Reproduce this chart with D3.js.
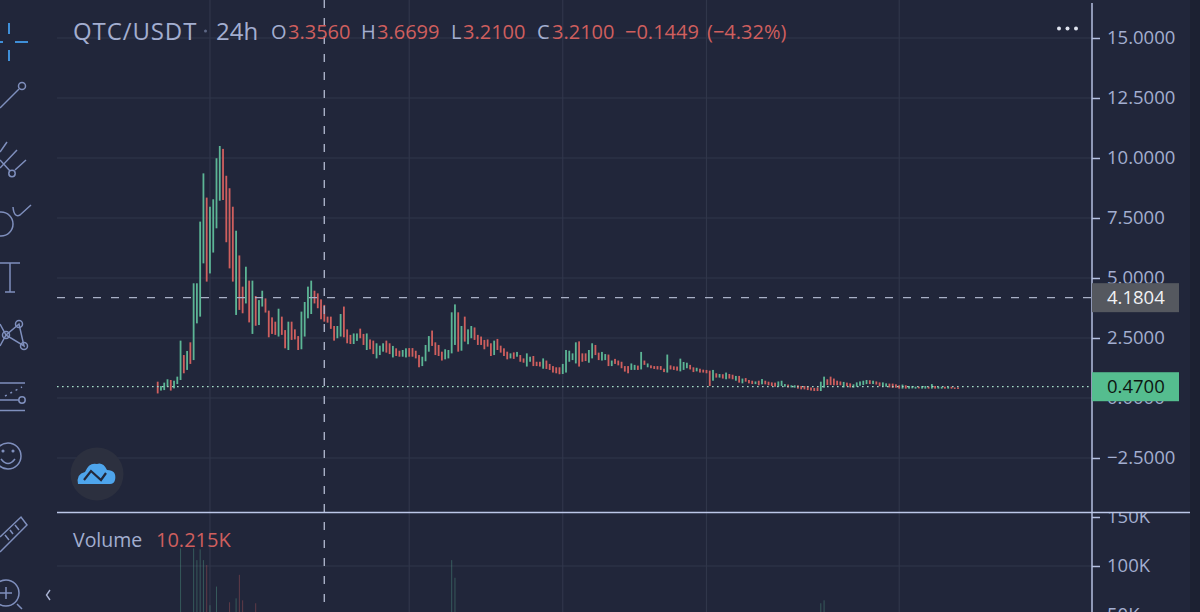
<!DOCTYPE html>
<html>
<head>
<meta charset="utf-8">
<script src="https://cdnjs.cloudflare.com/ajax/libs/d3/7.8.5/d3.min.js"></script>
<style>
    html, body { margin: 0; padding: 0; background: #21263a; overflow: hidden; }
    svg { display: block; }
    text { font-family: "Open Sans", "Noto Sans", sans-serif; }
</style>
</head>
<body>
<svg id="chart" width="1200" height="612"></svg>
<script>
// daily candles
var opens = [
    .68,.31,.33,.47,.75,.40,.58,.75,1.79,1.17,
    2.32,1.58,3.11,3.39,5.61,8.35,5.19,6.06,7.07,8.22,
    10.38,9.26,8.74,7.97,3.46,5.94,4.64,3.94,4.89,2.67,
    4.25,3.04,3.81,4.15,3.64,3.36,3.18,2.56,3.39,2.83,
    2.00,3.18,2.86,2.58,2.03,2.56,3.32,3.50,4.47,4.36,
    4.11,3.88,3.39,3.39,3.00,2.49,2.56,3.81,2.86,2.63,
    2.25,2.38,2.89,2.67,2.00,2.44,2.39,1.65,1.79,1.93,
    2.39,2.28,1.69,2.07,1.97,1.72,1.69,2.08,2.08,1.97,
    1.79,1.33,1.53,1.93,2.81,2.32,2.21,1.93,1.61,1.65,
    1.86,2.21,3.57,1.97,3.39,2.24,2.49,2.94,2.63,2.56,
    2.42,2.44,2.28,1.79,2.46,2.18,2.07,1.93,1.65,1.90,
    1.72,1.79,1.65,1.31,1.51,1.75,1.51,1.51,1.22,1.56,
    1.42,1.33,1.28,1.28,1.00,1.06,1.51,1.58,1.44,2.36,
    1.86,1.86,1.47,1.65,2.21,1.89,1.56,1.58,1.81,1.33,
    1.63,1.56,1.51,1.33,1.33,1.17,1.17,1.35,1.19,1.56,
    1.28,1.36,1.33,1.33,1.33,1.22,1.06,1.36,1.32,1.31,
    1.11,1.17,1.24,1.38,1.28,1.11,1.22,1.18,1.17,1.14,
    .72,1.03,.85,.99,.78,1.00,.97,.72,.92,.61,
    .83,.75,.72,.58,.72,.57,.72,.68,.65,.64,
    .47,.50,.47,.56,.44,.43,.53,.50,.50,.50,
    .44,.42,.44,.29,.43,.78,.89,.81,.72,.69,
    .44,.64,.61,.43,.47,.51,.54,.58,.74,.58,
    .69,.65,.49,.47,.60,.60,.57,.53,.39,.53,
    .39,.40,.39,.47,.39,.39,.47,.39,.50,.39,
    .39,.47,.39,.47,.44,.44
];
var closes = [
    .19,.50,.64,.78,.31,.72,.89,2.39,1.03,1.96,
    1.42,4.78,4.78,7.35,9.36,4.85,7.97,8.28,9.99,10.50,
    8.25,6.49,5.40,4.85,6.97,3.67,3.53,5.47,3.15,4.89,
    3.01,4.08,4.47,3.56,2.53,2.67,2.63,3.72,2.63,2.07,
    3.18,2.42,2.44,2.00,3.60,4.00,4.64,4.89,3.94,3.74,
    3.28,3.18,3.14,2.88,2.39,3.00,3.50,2.53,2.28,2.25,
    2.69,2.69,2.49,2.21,2.69,2.03,1.83,2.28,2.18,2.28,
    1.89,1.83,2.17,1.75,1.72,2.00,2.07,1.72,1.72,1.65,
    1.28,1.72,2.21,2.58,2.17,1.79,1.75,1.56,2.03,2.00,
    3.57,3.90,1.93,3.00,2.35,2.86,3.00,2.42,2.21,2.21,
    2.03,2.14,1.75,2.39,2.00,1.89,1.75,1.61,1.86,1.63,
    1.92,1.51,1.47,1.86,1.72,1.33,1.33,1.31,1.65,1.21,
    1.17,1.06,1.03,.99,1.42,2.00,1.97,1.86,2.32,1.31,
    1.51,1.54,2.00,2.28,1.79,1.58,1.92,1.83,1.33,1.56,
    1.42,1.36,1.24,1.10,1.03,1.44,1.38,1.17,1.92,1.38,
    1.44,1.24,1.21,1.19,1.17,1.08,1.81,1.19,1.17,1.14,
    1.64,1.50,1.47,1.19,1.08,1.26,1.06,1.06,1.03,.50,
    1.17,.85,1.00,.81,1.06,.81,.78,.92,.64,.81,
    .68,.61,.58,.69,.53,.79,.57,.53,.50,.47,
    .69,.72,.58,.44,.53,.53,.39,.36,.36,.33,
    .31,.29,.29,.68,.89,.54,.54,.53,.53,.53,
    .67,.49,.44,.57,.65,.69,.72,.75,.58,.72,
    .56,.49,.65,.61,.44,.42,.43,.39,.56,.39,
    .50,.50,.47,.40,.50,.50,.39,.58,.39,.47,
    .47,.39,.47,.39,.39,.39
];

// only the volume bars tall enough to show in the cropped pane
var volumeDays = [7, 11, 12, 13, 14, 15, 16, 18, 22, 24, 25, 26, 30, 90, 91, 203, 204];
var volumeValues = [118, 118, 106, 117, 106, 101, 60, 79, 63, 67, 91, 65, 62, 106, 88, 62, 65];

var priceTicks = [-2.5, 0, 2.5, 5, 7.5, 10, 12.5, 15];
var volumeTicks = [50, 100, 150];
var timeGridDays = [16, 77, 124, 168, 227];

var crossPrice = 4.1804, crossDay = 51;
var lastPrice = 0.47;

var width = 1200, height = 612;
var plotLeft = 57, axisX = 1092, stripX = 1190, paneY = 513;

var bg = "#21263a", grid = "#30364a", axisCol = "#b4bfe0", labelCol = "#a3aed0";
var up = "#5cb595", down = "#cf5f5e", iconCol = "#7f8fbd";

var svg = d3.select("#chart");

var x = d3.scaleLinear().domain([0, 245]).range([157.7, 958]);
var y = d3.scaleLinear().domain([0, 15]).range([398, 38]);
var yVol = d3.scaleLinear().domain([0, 150]).range([664, 517]);

svg.append("rect").attr("width", width).attr("height", height).attr("fill", bg);
svg.append("rect").attr("x", stripX).attr("width", width - stripX).attr("height", height).attr("fill", "#1c2132");

svg.append("clipPath").attr("id", "volClip").append("rect")
    .attr("x", 0).attr("y", paneY).attr("width", width).attr("height", height - paneY);
svg.append("clipPath").attr("id", "priceClip").append("rect")
    .attr("x", 0).attr("y", 0).attr("width", width).attr("height", paneY);

// grid
var gridG = svg.append("g").attr("stroke", grid).attr("stroke-width", 1.2);
gridG.selectAll(".h").data(priceTicks).enter().append("line")
    .attr("x1", plotLeft).attr("x2", axisX)
    .attr("y1", function (d) { return y(d); }).attr("y2", function (d) { return y(d); });
gridG.append("line").attr("x1", plotLeft).attr("x2", axisX)
    .attr("y1", yVol(100)).attr("y2", yVol(100));
gridG.selectAll(".v").data(timeGridDays).enter().append("line")
    .attr("y1", 0).attr("y2", height)
    .attr("x1", function (d) { return x(d); }).attr("x2", function (d) { return x(d); });

// volume
svg.append("g").selectAll("rect").data(volumeDays).enter().append("rect")
    .attr("x", function (d) { return x(d) - 0.5; })
    .attr("width", 1)
    .attr("y", function (d, i) { return yVol(volumeValues[i]); })
    .attr("height", function (d, i) { return height - yVol(volumeValues[i]); })
    .attr("fill", function (d) { return closes[d] >= opens[d] ? up : down; })
    .attr("opacity", 0.36);

// candles
svg.append("g").selectAll("rect").data(opens).enter().append("rect")
    .attr("x", function (d, i) { return x(i) - 0.9; })
    .attr("width", 1.8)
    .attr("y", function (d, i) { return y(Math.max(d, closes[i])); })
    .attr("height", function (d, i) { return Math.max(1.5, Math.abs(y(d) - y(closes[i]))); })
    .attr("fill", function (d, i) { return closes[i] >= d ? up : down; });

// last price and crosshair
svg.append("line").attr("x1", plotLeft).attr("x2", axisX)
    .attr("y1", y(lastPrice)).attr("y2", y(lastPrice))
    .attr("stroke", "#a6dcc8").attr("stroke-width", 1.3).attr("stroke-dasharray", "1.6 3.4");
svg.append("line").attr("x1", plotLeft).attr("x2", axisX)
    .attr("y1", y(crossPrice)).attr("y2", y(crossPrice))
    .attr("stroke", "#a9b0c6").attr("stroke-width", 1.4).attr("stroke-dasharray", "8 10");
svg.append("line").attr("x1", x(crossDay)).attr("x2", x(crossDay))
    .attr("y1", 0).attr("y2", height)
    .attr("stroke", "#a9b0c6").attr("stroke-width", 1.4).attr("stroke-dasharray", "8 10");

// axes
function styleAxis(g) {
    g.select(".domain").remove();
    g.selectAll("line").attr("stroke", axisCol).attr("stroke-width", 1.5);
    g.selectAll("text").attr("fill", labelCol).attr("font-size", "18.5px")
        .attr("font-family", '"Open Sans", sans-serif');
}
svg.append("g").attr("transform", "translate(" + axisX + ",0)")
    .attr("clip-path", "url(#priceClip)")
    .call(d3.axisRight(y).tickValues(priceTicks).tickSize(8).tickPadding(7)
        .tickFormat(function (d) { return d3.format(".4f")(d).replace("-", "\u2212"); }))
    .call(styleAxis);
svg.append("g").attr("transform", "translate(" + axisX + ",0)")
    .attr("clip-path", "url(#volClip)")
    .call(d3.axisRight(yVol).tickValues(volumeTicks).tickSize(8).tickPadding(7)
        .tickFormat(function (d) { return d + "K"; }))
    .call(styleAxis);

svg.append("line").attr("x1", axisX).attr("x2", axisX).attr("y1", 3).attr("y2", height)
    .attr("stroke", axisCol).attr("stroke-width", 1.5);
svg.append("line").attr("x1", plotLeft).attr("x2", stripX).attr("y1", paneY - 0.5).attr("y2", paneY - 0.5)
    .attr("stroke", "#bcc7e8").attr("stroke-width", 1.6);

// price badges
function badge(v, fill, txt) {
    svg.append("rect").attr("x", axisX).attr("y", y(v) - 14.5).attr("width", 87).attr("height", 29).attr("fill", fill);
    svg.append("text").attr("x", 1107).attr("y", y(v) + 6.5).attr("font-size", "18.5px").attr("fill", txt)
        .text(d3.format(".4f")(v));
}
badge(crossPrice, "#55585f", "#f0f1f4");
badge(lastPrice, "#55bd8f", "#0d1511");

// legend
function label(px, py, size, fill, s) {
    return svg.append("text").attr("x", px).attr("y", py).attr("font-size", size + "px").attr("fill", fill).text(s);
}
label(73, 40, 24, labelCol, "QTC/USDT").attr("letter-spacing", "0.9px");
svg.append("circle").attr("cx", 205.5).attr("cy", 31).attr("r", 1.5).attr("fill", "#5d6785");
label(216, 40, 24, labelCol, "24h");
label(271, 39, 20, labelCol, "O");
label(288, 39, 20, down, "3.3560");
label(361, 39, 20, labelCol, "H");
label(377, 39, 20, down, "3.6699");
label(451, 39, 20, labelCol, "L");
label(463, 39, 20, down, "3.2100");
label(537, 39, 20, labelCol, "C");
label(552, 39, 20, down, "3.2100");
label(625, 39, 20, down, "\u22120.1449");
label(707, 39, 20, down, "(\u22124.32%)");
label(73, 547, 19.5, labelCol, "Volume");
label(156, 547, 20, down, "10.215K");

svg.append("g").attr("fill", "#dfe3ee").selectAll("circle").data([0, 1, 2]).enter().append("circle")
    .attr("cx", function (d) { return 1059 + d * 8.5; }).attr("cy", 28.5).attr("r", 2);

// left toolbar
var icons = svg.append("g").attr("fill", "none").attr("stroke", iconCol).attr("stroke-width", 1.5);
var iconPaths = [
    "M0,108 L19,89",
    "M0,152 L7,142 M0,168 L17,150 M15,170 L26,160 M0,160 L10,171",
    "M13,207 Q14,218 20,215 L31,205",
    "M0,263 H20 M10,263 V292 M5,292 H15",
    "M0,324 L6,335 L19,324 L24,346 L6,335 L0,346",
    "M0,383 H25 M0,400 H19 M0,410.5 H25",
    "M0,537 L21,517 L27,525 L0,552 M5,535 L9,540 M10,530 L13,534 M15,525 L19,530",
    "M17,604 L22,609 M0,593 H12 M6,587 V599"
];
icons.selectAll("path").data(iconPaths).enter().append("path").attr("d", function (d) { return d; });
icons.append("path").attr("d", "M5,396 L22,387").attr("stroke-dasharray", "2 4");
icons.append("circle").attr("cx", 22).attr("cy", 86).attr("r", 3.5);
icons.append("circle").attr("cx", 12).attr("cy", 173.5).attr("r", 3.2);
icons.append("circle").attr("cx", 1).attr("cy", 224).attr("r", 12);
icons.append("circle").attr("cx", 19).attr("cy", 324).attr("r", 3.5);
icons.append("circle").attr("cx", 6).attr("cy", 335).attr("r", 3.5);
icons.append("circle").attr("cx", 24).attr("cy", 346).attr("r", 3.5);
icons.append("circle").attr("cx", 22).attr("cy", 400).attr("r", 3.2);
icons.append("circle").attr("cx", 8).attr("cy", 456).attr("r", 13);
icons.append("path").attr("d", "M1,459 Q8,468 15,459");
icons.append("circle").attr("cx", 3).attr("cy", 451).attr("r", 0.8);
icons.append("circle").attr("cx", 13).attr("cy", 451).attr("r", 0.8);
icons.append("circle").attr("cx", 6).attr("cy", 593).attr("r", 13);
svg.append("path").attr("d", "M9,23 V34 M9,50 V61 M15,42 H28 M0,42 H3")
    .attr("fill", "none").attr("stroke", "#3f8fd8").attr("stroke-width", 2);
svg.append("path").attr("d", "M50,590 L46.5,595 L50,600")
    .attr("fill", "none").attr("stroke", "#a9b3d3").attr("stroke-width", 1.4);

// logo
svg.append("circle").attr("cx", 97).attr("cy", 474).attr("r", 26.5).attr("fill", "#2c303f");
svg.append("path")
    .attr("d", "M78,484 Q76,474 85,472 Q89,462 97,464 Q103,462 107,470 Q117,470 115,480 Q114,484 110,484 Z")
    .attr("fill", "#4ea5ec");
svg.append("path").attr("d", "M84,480 L91,471 L101,480 L106,473")
    .attr("fill", "none").attr("stroke", "#23283a").attr("stroke-width", 2.2);
</script>
</body>
</html>
